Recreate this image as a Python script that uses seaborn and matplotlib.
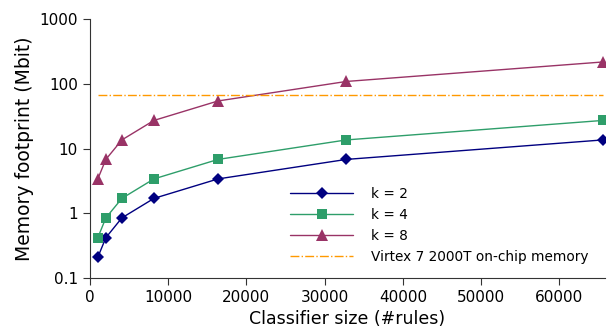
import pandas as pd
import seaborn as sns
import matplotlib.pyplot as plt

# Classifier sizes (number of rules)
rules = [1024, 2048, 4096, 8192, 16384, 32768, 65536]

# Memory footprint in Mbit for each k
mem_k2 = [0.21, 0.42, 0.85, 1.7, 3.4, 6.8, 13.6]
mem_k4 = [0.42, 0.85, 1.7, 3.4, 6.8, 13.6, 27.2]
mem_k8 = [3.4, 6.8, 13.6, 27.2, 54.4, 108.8, 217.6]

# Virtex 7 2000T on-chip memory (Mbit)
virtex_mem = 68

series_labels = ['k = 2', 'k = 4', 'k = 8']
df = pd.DataFrame({
    'rules': rules * 3,
    'mem': mem_k2 + mem_k4 + mem_k8,
    'k': [series_labels[0]] * 7 + [series_labels[1]] * 7 + [series_labels[2]] * 7,
})

sns.set_style('ticks')
plt.rcParams['font.family'] = ['DejaVu Sans']
plt.rcParams['text.color'] = 'black'
plt.rcParams['axes.labelcolor'] = 'black'
plt.rcParams['xtick.color'] = 'black'
plt.rcParams['ytick.color'] = 'black'

fig, ax = plt.subplots(figsize=(6.11, 3.35), dpi=100)
fig.subplots_adjust(left=0.147, right=0.99, top=0.943, bottom=0.17)

palette = {'k = 2': '#000080', 'k = 4': '#2E9E6A', 'k = 8': '#993366'}
markers = {'k = 2': 'D', 'k = 4': 's', 'k = 8': '^'}
sizes = {'k = 2': 6, 'k = 4': 7.5, 'k = 8': 8}
for lab in series_labels:
    sns.lineplot(data=df[df['k'] == lab], x='rules', y='mem',
                 color=palette[lab], marker=markers[lab],
                 markersize=sizes[lab], markeredgewidth=0, linewidth=1,
                 label=lab, ax=ax)

sns.lineplot(x=[rules[0], rules[-1]], y=[virtex_mem, virtex_mem],
             color='#FF9900', linestyle='-.', linewidth=1,
             label='Virtex 7 2000T on-chip memory', ax=ax)

ax.set_yscale('log')
ax.set_ylim(0.1, 1000)
ax.set_xlim(0, 65800)
ax.set_yticks([0.1, 1, 10, 100, 1000])
ax.set_yticklabels(['0.1', '1', '10', '100', '1000'])
ax.minorticks_off()
ax.set_xticks([0, 10000, 20000, 30000, 40000, 50000, 60000])
ax.tick_params(labelsize=11, length=5, color='#333333')
ax.set_xlabel('Classifier size (#rules)', fontsize=12.5)
ax.set_ylabel('Memory footprint (Mbit)', fontsize=13.5)
for s in ['left', 'bottom']:
    ax.spines[s].set_color('#333333')
sns.despine(ax=ax)

ax.legend(loc='lower right', frameon=False, fontsize=9.8,
          handlelength=4.6, handletextpad=1.3, labelspacing=0.5,
          borderaxespad=0, bbox_to_anchor=(0.978, 0.035))

fig.savefig('out.png', dpi=100)
